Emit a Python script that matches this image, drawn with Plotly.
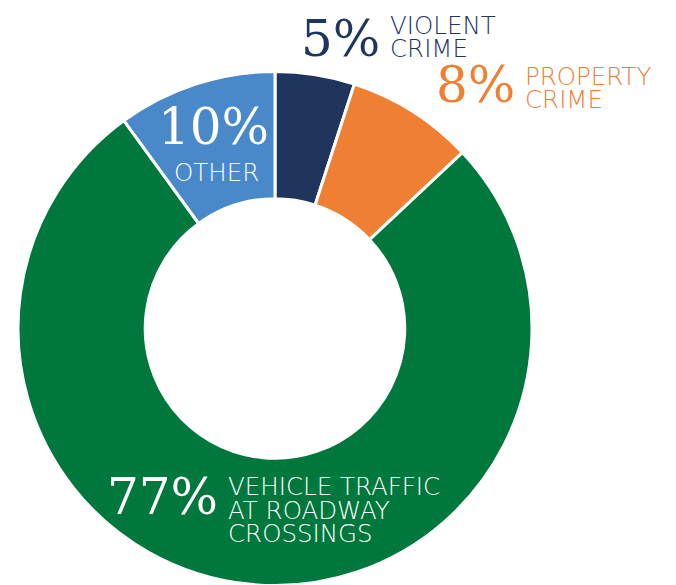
import plotly.graph_objects as go

categories = ["Violent Crime", "Property Crime", "Vehicle Traffic at Roadway Crossings", "Other"]
values = [5, 8, 77, 10]
label_lines = [["VIOLENT", "CRIME"], ["PROPERTY", "CRIME"], ["VEHICLE TRAFFIC", "AT ROADWAY", "CROSSINGS"], ["OTHER"]]
colors = ["#1f355e", "#ee7f33", "#00783d", "#4a89c9"]

W, H = 676, 585
OFF = 8  # browser default body margin

def fx(x):
    return (x - OFF) / W

def fy(y):
    return 1 - (y - OFF) / H

fig = go.Figure(go.Pie(
    labels=categories, values=values, sort=False, direction="clockwise", rotation=0,
    hole=0.505, textinfo="none", hoverinfo="label+percent",
    marker=dict(colors=colors, line=dict(color="white", width=3)),
    domain=dict(x=[fx(18), fx(532)], y=[fy(585.5), fy(71.5)]),
    showlegend=False,
))

SERIF = "DejaVu Serif"
SANS = "DejaVu Sans"

# percent numbers: (label index, x, y, xanchor, color)  -- page pixels
pct_pos = [
    (0, 300, 38.5, "left", colors[0]),
    (1, 435, 85.5, "left", colors[1]),
    (2, 106, 496.5, "left", "white"),
    (3, 213.5, 127.5, "center", "white"),
]
for i, x, y, xa, col in pct_pos:
    fig.add_annotation(text=f"{values[i]}%", x=fx(x), y=fy(y), xref="paper", yref="paper",
                       xanchor=xa, yanchor="middle", showarrow=False, borderpad=0,
                       font=dict(family=SERIF, size=50, color=col))

# text labels: (label index, x, first y, line step, xanchor, color)
lab_pos = [
    (0, 389, 25, 23.5, "left", colors[0]),
    (1, 524, 76.5, 23.0, "left", colors[1]),
    (2, 227, 486.5, 23.7, "left", "white"),
    (3, 216, 172.5, 23.0, "center", "white"),
]
for i, x, y0, step, xa, col in lab_pos:
    for k, line in enumerate(label_lines[i]):
        fig.add_annotation(text=line, x=fx(x), y=fy(y0 + k * step), xref="paper", yref="paper",
                           xanchor=xa, yanchor="middle", showarrow=False, borderpad=0,
                           font=dict(family=SANS, size=24.5, color=col, weight=200))

fig.update_layout(width=W, height=H, margin=dict(l=0, r=0, t=0, b=0),
                  paper_bgcolor="white", plot_bgcolor="white")
fig.write_html("out.html")
